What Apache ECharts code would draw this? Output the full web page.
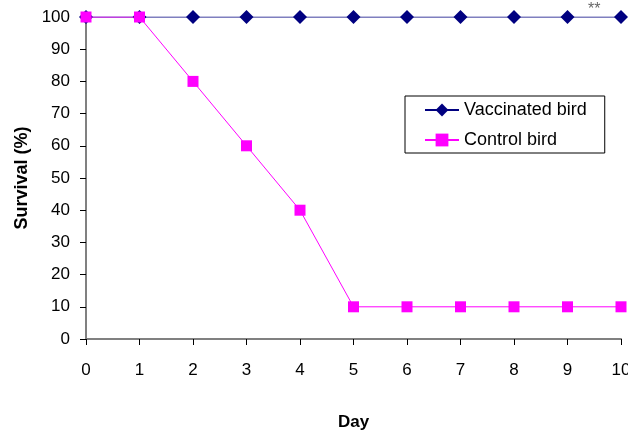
<!DOCTYPE html>
<html><head><meta charset="utf-8">
<script src="https://cdn.jsdelivr.net/npm/echarts@6/dist/echarts.min.js"></script>
<style>html,body{margin:0;padding:0;background:#fff}#c{width:628px;height:433px}</style>
</head><body><div id="c"></div>
<script>
var days = [0,1,2,3,4,5,6,7,8,9,10];
var vaccinated = [100,100,100,100,100,100,100,100,100,100,100];
var control = [100,100,80,60,40,10,10,10,10,10,10];
var chart = echarts.init(document.getElementById('c'));
var font = 'Liberation Sans, Arial, sans-serif';
chart.setOption({
  animation:false,
  backgroundColor:'#fff',
  grid:{left:86,right:7,top:17,bottom:94,containLabel:false,outerBoundsMode:'none'},
  xAxis:{type:'value',min:0,max:10,interval:1,name:'Day',nameLocation:'middle',nameGap:75,
    nameTextStyle:{fontFamily:font,fontSize:17,fontWeight:'bold',color:'#000'},
    axisLine:{lineStyle:{color:'#808080',width:2}},
    axisTick:{show:true,length:6,lineStyle:{color:'#000',width:1}},
    axisLabel:{margin:23,fontFamily:font,fontSize:17,color:'#000'},
    splitLine:{show:false}},
  yAxis:{type:'value',min:0,max:100,interval:10,name:'Survival (%)',nameLocation:'middle',nameGap:52,
    nameTextStyle:{fontFamily:font,fontSize:18,fontWeight:'bold',color:'#000'},
    axisLine:{show:true,lineStyle:{color:'#808080',width:2}},
    axisTick:{show:true,length:6,lineStyle:{color:'#000',width:1}},
    axisLabel:{margin:16,fontFamily:font,fontSize:17,color:'#000'},
    splitLine:{show:false}},
  legend:{left:405,top:96,orient:'vertical',padding:[5,18,4,19],itemGap:12,
    borderColor:'#000',borderWidth:1,backgroundColor:'#fff',itemWidth:34,itemHeight:16,
    textStyle:{fontFamily:font,fontSize:18,color:'#000'},
    data:['Vaccinated bird','Control bird']},
  graphic:[{type:'text',left:588,top:2,style:{text:'**',fontFamily:font,fontSize:16,fill:'#666'}}],
  series:[
    {name:'Vaccinated bird',type:'line',data:days.map(function(d,i){return [d,vaccinated[i]];}),
     symbol:'diamond',symbolSize:14,itemStyle:{color:'#000080'},lineStyle:{color:'#000080',width:1},z:2},
    {name:'Control bird',type:'line',data:days.map(function(d,i){return [d,control[i]];}),
     symbol:'rect',symbolSize:11,itemStyle:{color:'#ff00ff'},lineStyle:{color:'#ff00ff',width:1},z:3}
  ]
});
</script></body></html>
